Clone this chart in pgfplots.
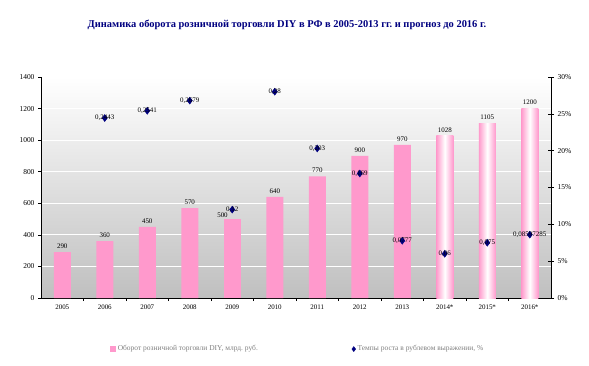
\documentclass[border=0pt]{standalone}
\usepackage{fontspec}
\setmainfont{Liberation Serif}
\usepackage{pgfplots}
\pgfplotsset{compat=1.18}
\definecolor{pinkc}{HTML}{FF99CC}
\definecolor{navyc}{HTML}{000080}
\definecolor{legc}{HTML}{808080}
\frenchspacing

\pgfplotstableread{
x y
0 290
1 360
2 450
3 570
5 640
6 770
7 900
8 970
}\turnover

\pgfplotstableread{
x y
4 500
}\turnoverb

\pgfplotstableread{
x y
9 1028
}\fa
\pgfplotstableread{
x y
10 1105
}\fb
\pgfplotstableread{
x y
11 1200
}\fc

\pgfplotstableread{
x y label
1 24.43 0,2443
2 25.41 0,2541
3 26.79 0,2679
4 12.0 0,12
5 28.0 0,28
6 20.3 0,203
7 16.9 0,169
8 7.77 0,0777
9 6.0 0,06
10 7.5 0,075
11 8.6 0,08597285
}\growth

\begin{document}
\begin{tikzpicture}[x=1bp,y=1bp]
\path[use as bounding box] (0,0) rectangle (589,365);
\node[font=\fontsize{10.5}{12}\selectfont\bfseries, text=navyc] at (287,340)
  {Динамика оборота розничной торговли DIY в РФ в 2005-2013 гг. и прогноз до 2016 г.};

\begin{axis}[
  at={(41bp,67bp)}, anchor=south west,
  scale only axis, width=510bp, height=221bp,
  xmin=-0.5, xmax=11.5, ymin=0, ymax=1400,
  ytick={0,200,...,1400},
  xtick={0,...,11},
  xticklabels={2005,2006,2007,2008,2009,2010,2011,2012,2013,2014*,2015*,2016*},
  every major x tick/.append style={draw=none},
  minor x tick num=1,
  major tick length=3bp, minor tick length=3bp,
  tick align=outside,
  axis x line*=bottom, axis y line*=left,
  axis line style={black, line width=0.6pt},
  tick style={black, line width=0.6pt},
  ymajorgrids, grid style={white, line width=1pt},
  axis background/.style={top color=white, bottom color=black!25},
  /pgf/number format/1000 sep={},
  /pgf/number format/assume math mode=true,
  xticklabel style={font=\fontsize{7}{8}\selectfont},
  yticklabel style={font=\fontsize{7.5}{8}\selectfont},
  legend style={at={(0.503,-0.231)}, anchor=center, draw=none, fill=none,
    font=\fontsize{7.5}{8}\selectfont, text=legc, legend columns=2,
    /tikz/every even column/.append style={column sep=92bp}},
  legend cell align=left,
  barlab/.style={nodes near coords, nodes near coords style={font=\fontsize{7}{8}\selectfont, text=black}},
  fcbar/.style={ybar, bar width=17bp, bar shift=0pt, draw=none,
    left color=pinkc, right color=pinkc, middle color=white, forget plot, barlab},
]
\addplot[ybar, bar width=17bp, bar shift=0pt, fill=pinkc, draw=none,
  legend image code/.code={\fill[pinkc] (0bp,-3bp) rectangle (6bp,3bp);},
  barlab]
  table[x=x,y=y] {\turnover};
\addlegendentry{Оборот розничной торговли DIY, млрд. руб.}
\addplot[ybar, bar width=17bp, bar shift=0pt, fill=pinkc, draw=none, forget plot,
  nodes near coords, nodes near coords style={font=\fontsize{7}{8}\selectfont, text=black, anchor=south east, xshift=-1bp, yshift=-2bp}]
  table[x=x,y=y] {\turnoverb};
\addplot[fcbar] table[x=x,y=y] {\fa};
\addplot[fcbar] table[x=x,y=y] {\fb};
\addplot[fcbar] table[x=x,y=y] {\fc};
\addlegendimage{only marks, mark=diamond*, mark size=2.5bp, color=navyc}
\addlegendentry{Темпы роста в рублевом выражении, \%}
\end{axis}

\begin{axis}[
  at={(41bp,67bp)}, anchor=south west,
  scale only axis, width=510bp, height=221bp,
  xmin=-0.5, xmax=11.5, ymin=0, ymax=30,
  axis x line=none, axis y line*=right,
  ytick={0,5,...,30},
  yticklabel={\pgfmathprintnumber{\tick}\%},
  tick align=center, major tick length=6bp,
  axis line style={black, line width=0.6pt},
  tick style={black, line width=0.6pt},
  /pgf/number format/assume math mode=true,
  ticklabel style={font=\fontsize{7.5}{8}\selectfont},
]
\addplot[only marks, mark=diamond*, mark size=3.5bp, color=navyc,
  nodes near coords, point meta=explicit symbolic,
  nodes near coords style={anchor=center, font=\fontsize{7}{8}\selectfont, text=black}]
  table[x=x,y=y,meta=label] {\growth};
\end{axis}
\end{tikzpicture}
\end{document}
